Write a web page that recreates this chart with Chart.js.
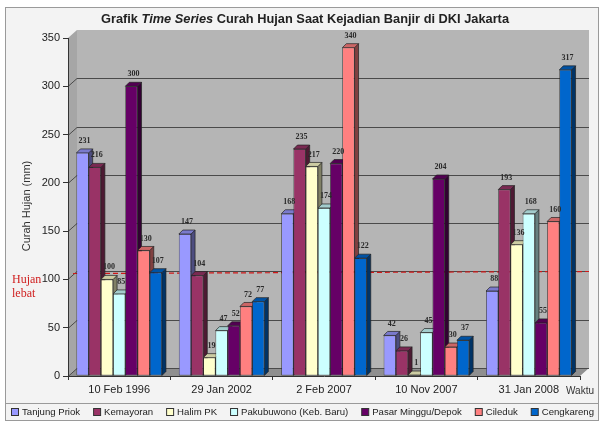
<!DOCTYPE html>
<html>
<head>
<meta charset="utf-8">
<style>
  html, body { margin: 0; padding: 0; background: #fff; }
  canvas { display: block; }
</style>
<script src="https://cdn.jsdelivr.net/npm/chart.js@4.4.1/dist/chart.umd.min.js"></script>
</head>
<body>
<canvas id="c" width="601" height="423"></canvas>
<script>
// ---- DATA ----
const categories = ['10 Feb 1996', '29 Jan 2002', '2 Feb 2007', '10 Nov 2007', '31 Jan 2008'];
const seriesNames = ['Tanjung Priok', 'Kemayoran', 'Halim PK', 'Pakubuwono (Keb. Baru)', 'Pasar Minggu/Depok', 'Cileduk', 'Cengkareng'];
const tanjungPriok = [231, 147, 168, 42, 88];
const kemayoran    = [216, 104, 235, 26, 193];
const halimPK      = [100, 19, 217, 1, 136];
const pakubuwono   = [85, 47, 174, 45, 168];
const pasarMinggu  = [300, 52, 220, 204, 55];
const cileduk      = [130, 72, 340, 30, 160];
const cengkareng   = [107, 77, 122, 37, 317];
const yTickValues  = [0, 50, 100, 150, 200, 250, 300, 350];
const heavyRainThreshold = 100;

// ---- STYLE ----
const seriesColors = ['#9999ff', '#993366', '#ffffcc', '#ccffff', '#660066', '#ff8080', '#0066cc'];
const seriesValues = [tanjungPriok, kemayoran, halimPK, pakubuwono, pasarMinggu, cileduk, cengkareng];
const DX = 9, DY = 8;      // wall depth
const BX = 4, BY = 4;      // bar depth
const SANS = '"Liberation Sans", Arial, sans-serif';
const SERIF = '"Liberation Serif", "Times New Roman", serif';

function shade(hex, f) {
  const n = parseInt(hex.slice(1), 16);
  const r = Math.round(((n >> 16) & 255) * f), g = Math.round(((n >> 8) & 255) * f), b = Math.round((n & 255) * f);
  return `rgb(${r},${g},${b})`;
}
function poly(ctx, pts, fill, stroke) {
  ctx.beginPath();
  ctx.moveTo(pts[0][0], pts[0][1]);
  for (let i = 1; i < pts.length; i++) ctx.lineTo(pts[i][0], pts[i][1]);
  ctx.closePath();
  if (fill) { ctx.fillStyle = fill; ctx.fill(); }
  if (stroke) { ctx.strokeStyle = stroke; ctx.lineWidth = 0.7; ctx.stroke(); }
}

const scenePlugin = {
  id: 'scene',
  beforeDraw(chart) {
    const { ctx, chartArea: a, scales: { y } } = chart;
    ctx.save();
    ctx.fillStyle = '#ffffff';
    ctx.fillRect(0, 0, chart.width, chart.height);
    ctx.fillStyle = '#f3f3f3';
    ctx.fillRect(5, 7, 593, 414);
    ctx.strokeStyle = '#9a9a9a';
    ctx.lineWidth = 1;
    ctx.strokeRect(5.5, 7.5, 593, 413);
    ctx.beginPath(); ctx.moveTo(5, 403.5); ctx.lineTo(599, 403.5); ctx.stroke();

    // back wall, left wall, floor
    ctx.fillStyle = '#b5b5b5';
    ctx.fillRect(a.left + DX, a.top - DY, a.right - a.left, a.bottom - a.top);
    poly(ctx, [[a.left, a.top], [a.left + DX, a.top - DY], [a.left + DX, a.bottom - DY], [a.left, a.bottom]], '#a6a6a6');
    poly(ctx, [[a.left, a.bottom], [a.left + DX, a.bottom - DY], [a.right + DX, a.bottom - DY], [a.right, a.bottom]], '#8f8f8f');

    // gridlines on the wall
    ctx.strokeStyle = '#4a4a4a';
    ctx.lineWidth = 1;
    ctx.beginPath();
    yTickValues.forEach(v => {
      if (v === yTickValues[yTickValues.length - 1]) return;
      const py = Math.round(y.getPixelForValue(v)) + 0.5;
      ctx.moveTo(a.left, py);
      ctx.lineTo(a.left + DX, py - DY);
      ctx.lineTo(a.right + DX, py - DY);
    });
    ctx.stroke();

    // heavy rain threshold line
    const ty = Math.round(y.getPixelForValue(heavyRainThreshold)) + 0.5 - DY;
    ctx.strokeStyle = '#d01818';
    ctx.lineWidth = 1.2;
    ctx.setLineDash([5, 3]);
    ctx.beginPath();
    ctx.moveTo(a.left + 5, ty + 2);
    ctx.lineTo(a.right + DX, ty);
    ctx.stroke();
    ctx.setLineDash([]);
    ctx.restore();
  },
  beforeDatasetsDraw(chart) {
    const ctx = chart.ctx;
    ctx.save();
    const metas = chart.getSortedVisibleDatasetMetas();
    metas.forEach(meta => {
      const col = seriesColors[meta.index];
      meta.data.forEach(bar => {
        const p = bar.getProps(['x', 'y', 'base', 'width'], true);
        const r = p.x + p.width / 2;
        poly(ctx, [[r, p.y], [r + BX, p.y - BY], [r + BX, p.base - BY], [r, p.base]], shade(col, 0.5), '#222');
      });
    });
    metas.forEach(meta => {
      const col = seriesColors[meta.index];
      meta.data.forEach(bar => {
        const p = bar.getProps(['x', 'y', 'base', 'width'], true);
        const l = p.x - p.width / 2, r = p.x + p.width / 2;
        poly(ctx, [[l, p.y], [l + BX, p.y - BY], [r + BX, p.y - BY], [r, p.y]], shade(col, 0.8), '#222');
      });
    });
    ctx.restore();
  },
  afterDatasetsDraw(chart) {
    const ctx = chart.ctx;
    ctx.save();
    ctx.font = 'bold 8px ' + SERIF;
    ctx.fillStyle = '#2a2a2a';
    ctx.textAlign = 'center';
    ctx.textBaseline = 'middle';
    chart.getSortedVisibleDatasetMetas().forEach(meta => {
      const vals = chart.data.datasets[meta.index].data;
      meta.data.forEach((bar, i) => {
        const p = bar.getProps(['x', 'y'], true);
        ctx.fillText(String(vals[i]), p.x + 2, p.y - 12);
      });
    });
    ctx.restore();
  },
  afterDraw(chart) {
    const { ctx, scales: { y } } = chart;
    ctx.save();
    const parts = [['Grafik ', 'bold'], ['Time Series', 'italic bold'], [' Curah Hujan Saat Kejadian Banjir di DKI Jakarta', 'bold']];
    const tf = ' 12.8px ' + SANS;
    let total = 0;
    parts.forEach(pt => { ctx.font = pt[1] + tf; total += ctx.measureText(pt[0]).width; });
    let x = 305 - total / 2;
    ctx.fillStyle = '#222';
    ctx.textBaseline = 'middle';
    ctx.textAlign = 'left';
    parts.forEach(pt => { ctx.font = pt[1] + tf; ctx.fillText(pt[0], x, 19); x += ctx.measureText(pt[0]).width; });

    ctx.save();
    ctx.translate(27, 206);
    ctx.rotate(-Math.PI / 2);
    ctx.font = '11px ' + SANS;
    ctx.textAlign = 'center';
    ctx.fillStyle = '#333';
    ctx.fillText('Curah Hujan (mm)', 0, 0);
    ctx.restore();

    ctx.font = '10px ' + SANS;
    ctx.fillStyle = '#333';
    ctx.textAlign = 'left';
    ctx.fillText('Waktu', 566, 391);

    const hy = y.getPixelForValue(heavyRainThreshold);
    ctx.font = '12px ' + SERIF;
    ctx.fillStyle = '#d02020';
    ctx.fillText('Hujan', 12, hy);
    ctx.fillText('lebat', 12, hy + 14);

    ctx.font = '9.6px ' + SANS;
    const box = 7, gapIn = 4;
    const widths = seriesNames.map(n => box + gapIn + ctx.measureText(n).width);
    const sum = widths.reduce((s, w) => s + w, 0);
    const startX = 11, endX = 594;
    const gap = (endX - startX - sum) / (seriesNames.length - 1);
    let lx = startX;
    const ly = 412;
    seriesNames.forEach((n, i) => {
      ctx.fillStyle = seriesColors[i];
      ctx.fillRect(lx + 0.5, ly - 3.5, box, box);
      ctx.strokeStyle = '#333';
      ctx.lineWidth = 1;
      ctx.strokeRect(lx + 0.5, ly - 3.5, box, box);
      ctx.fillStyle = '#222';
      ctx.fillText(n, lx + box + gapIn, ly);
      lx += widths[i] + gap;
    });
    ctx.restore();
  }
};

const datasets = seriesNames.map((name, i) => ({
  label: name,
  data: seriesValues[i],
  backgroundColor: seriesColors[i],
  borderColor: '#222',
  borderWidth: 0.7,
  borderSkipped: false,
  categoryPercentage: 0.835,
  barPercentage: 1.0
}));

new Chart(document.getElementById('c'), {
  type: 'bar',
  data: { labels: categories, datasets },
  options: {
    responsive: false,
    animation: false,
    devicePixelRatio: 1,
    layout: { padding: { left: 0, right: 21, top: 38, bottom: 20 } },
    plugins: { legend: { display: false }, title: { display: false }, tooltip: { enabled: false } },
    scales: {
      x: {
        ticks: { color: '#222', font: { size: 11, family: SANS }, padding: 3, maxRotation: 0 },
        grid: { display: true, drawOnChartArea: false, tickLength: 4, color: '#333', offset: true },
        border: { display: true, color: '#333' },
        afterFit: s => { s.height = 27; }
      },
      y: {
        min: 0, max: 350,
        afterBuildTicks: s => { s.ticks = yTickValues.map(v => ({ value: v })); },
        ticks: { color: '#222', font: { size: 11, family: SANS }, padding: 3 },
        grid: { display: true, drawOnChartArea: false, tickLength: 5, color: '#333' },
        border: { display: true, color: '#333' },
        afterFit: s => { s.width = 68; }
      }
    }
  },
  plugins: [scenePlugin]
});
</script>
</body>
</html>
